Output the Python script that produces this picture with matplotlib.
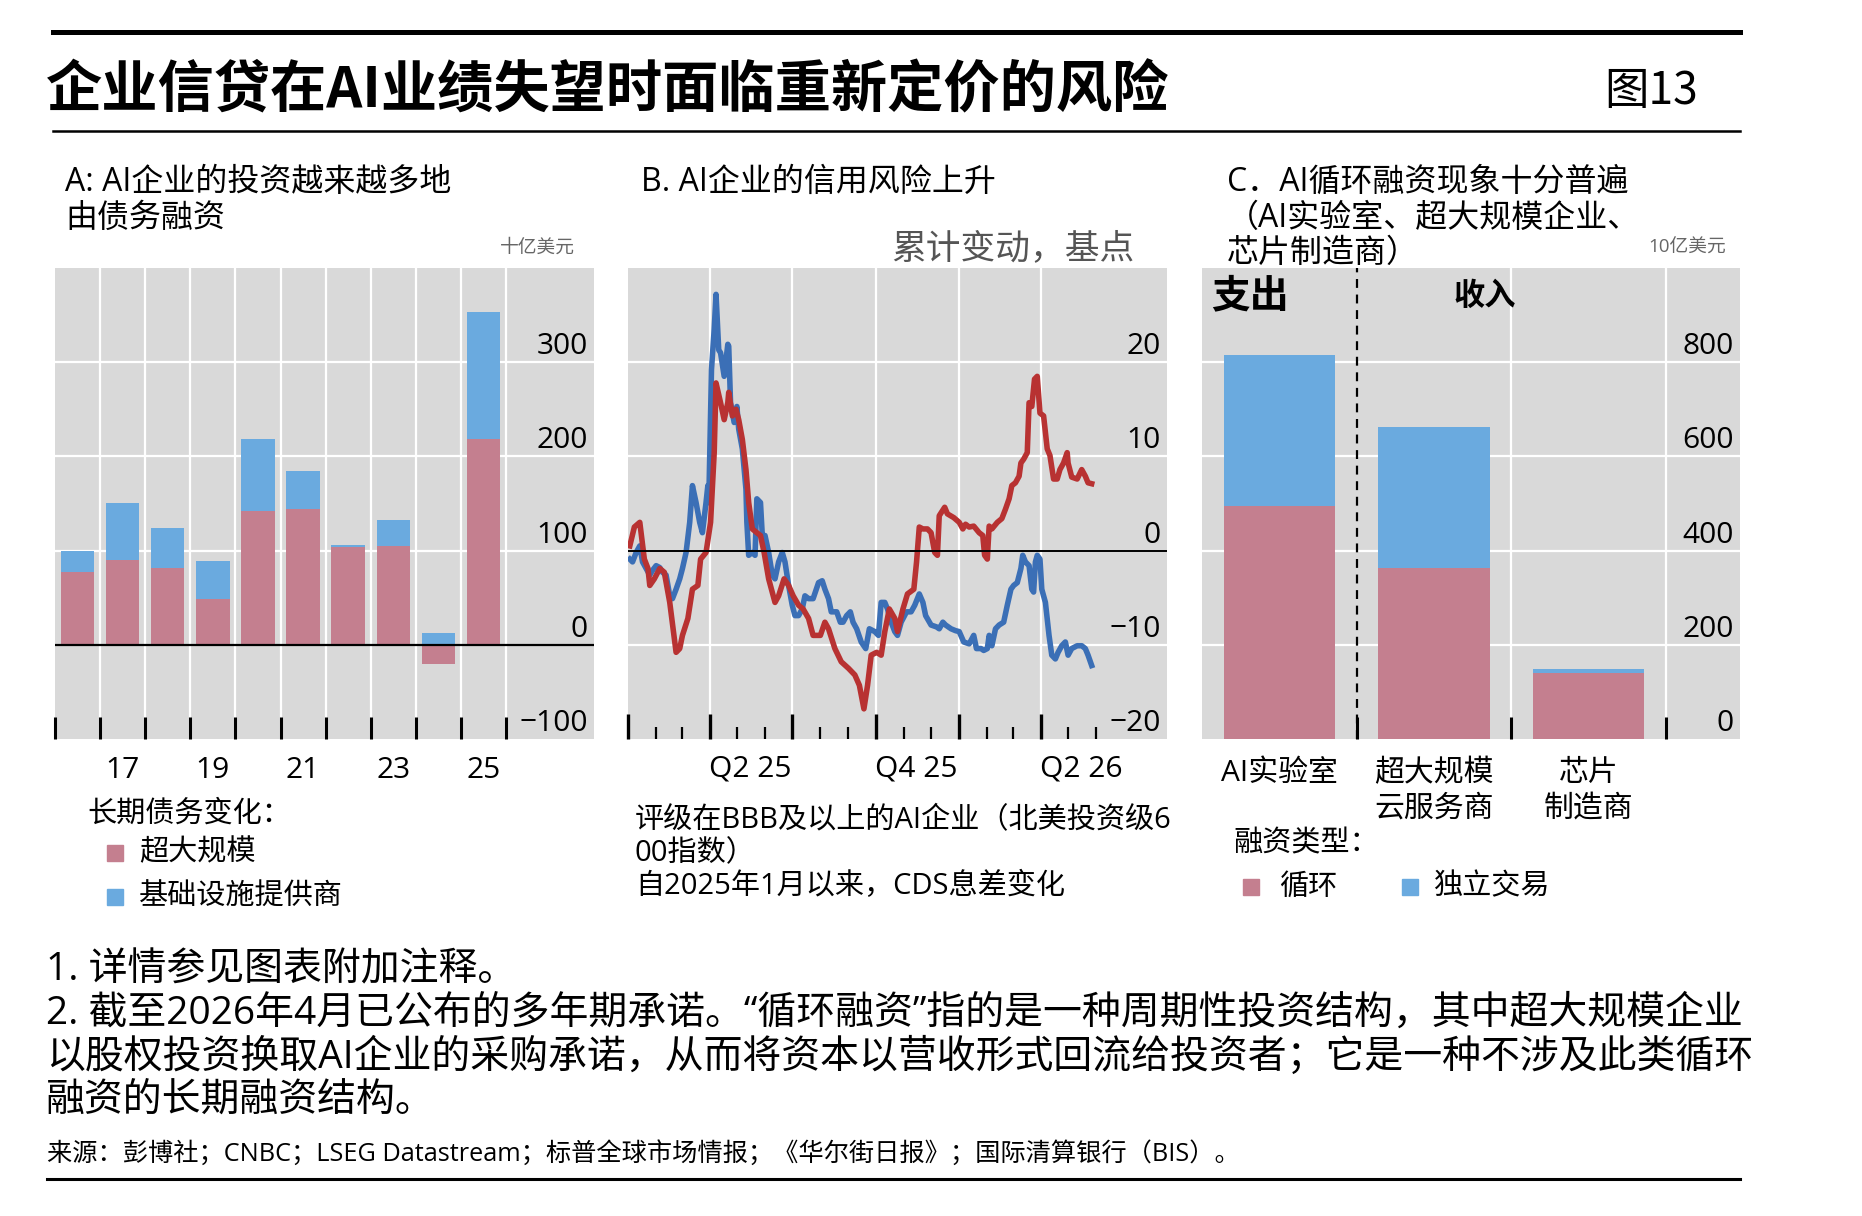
import numpy as np
import matplotlib
matplotlib.use("Agg")
import matplotlib.pyplot as plt

plt.rcParams['font.family'] = ['Open Sans', 'Noto Sans CJK SC', 'DejaVu Sans']

# ---- data ----
# panel A: long-term debt change, $bn
years = [2016, 2017, 2018, 2019, 2020, 2021, 2022, 2023, 2024, 2025]
hyperscalers = [77, 90, 81, 49, 142, 144, 104, 105, -20, 219]
infra = [23, 61, 43, 40, 76, 41, 2, 28, 12, 134]
a_year_labels = [2017, 2019, 2021, 2023, 2025]
a_yticks = [-100, 0, 100, 200, 300]

# panel B: cumulative CDS spread change since Jan 2025, bp (days after 2025-01-01)
red_days = [2, 7, 13, 18, 22, 24, 29, 35, 40, 46, 53, 57, 60, 66, 71, 77, 80, 86, 91, 95,
            97, 102, 106, 110, 111, 115, 119, 122, 126, 130, 133, 137, 142, 146, 150, 155,
            162, 166, 172, 177, 182, 188, 193, 199, 204, 212, 217, 221, 228, 235, 243, 250,
            255, 260, 264, 268, 274, 279, 283, 288, 294, 297, 303, 308, 315, 318, 321, 325,
            330, 334, 338, 341, 343, 349, 352, 359, 365, 369, 372, 376, 381, 387, 391, 393,
            396, 398, 401, 407, 412, 416, 420, 423, 427, 431, 433, 436, 440, 442, 445, 448,
            451, 454, 458, 462, 465, 469, 473, 476, 480, 484, 485, 489, 495, 500, 504, 507, 511]
red_vals = [0.5, 2.5, 3.0, -0.9, -1.9, -3.7, -3.0, -1.9, -2.3, -5.5, -10.8, -10.4, -9.0, -7.2,
            -4.1, -3.7, -0.9, -0.2, 3.0, 10.4, 17.8, 15.7, 13.9, 15.7, 16.8, 14.3, 15.0, 13.9,
            11.8, 8.6, 5.1, 2.3, 1.9, 1.6, -0.2, -3.0, -5.5, -4.8, -3.0, -3.7, -4.8, -5.8, -6.2,
            -7.2, -9.0, -9.0, -7.6, -8.3, -10.4, -11.8, -12.5, -13.2, -14.3, -16.8, -14.3,
            -11.1, -10.8, -11.1, -8.6, -6.2, -7.2, -8.6, -6.2, -4.6, -4.1, -1.2, 2.5, 2.3, 2.3,
            1.9, -0.2, -0.5, 3.7, 4.6, 3.9, 3.5, 3.0, 2.3, 2.8, 2.5, 2.6, 1.9, 1.6, -0.5, -0.9,
            2.6, 2.3, 3.0, 3.4, 4.4, 5.5, 6.9, 7.2, 7.9, 9.3, 9.7, 10.4, 15.7, 15.3, 18.2, 18.5,
            14.6, 14.3, 10.8, 10.1, 7.6, 7.6, 8.6, 9.3, 10.4, 9.3, 7.8, 7.6, 8.6, 7.9, 7.2, 7.1]
blue_days = [2, 5, 9, 13, 16, 20, 24, 27, 31, 35, 38, 42, 46, 49, 53, 57, 60, 64, 68, 71, 75,
             79, 82, 86, 88, 89, 92, 95, 97, 100, 102, 106, 110, 111, 113, 117, 120, 122, 126,
             130, 131, 133, 137, 140, 142, 146, 148, 151, 155, 159, 162, 166, 170, 173, 177,
             181, 184, 188, 192, 195, 199, 204, 210, 214, 217, 221, 224, 230, 234, 237, 241,
             245, 248, 252, 257, 262, 266, 272, 276, 279, 283, 286, 290, 294, 297, 301, 307,
             312, 316, 321, 325, 328, 334, 340, 343, 347, 350, 356, 361, 365, 370, 376, 381,
             384, 389, 392, 396, 398, 401, 405, 409, 414, 418, 422, 425, 429, 433, 435, 438,
             442, 445, 447, 449, 451, 454, 456, 460, 464, 467, 471, 474, 478, 482, 485, 489,
             495, 500, 504, 507, 511]
blue_vals = [-0.9, -1.2, -0.2, 0.5, -1.2, -1.9, -2.6, -2.1, -1.6, -1.8, -2.3, -2.6, -4.8, -5.1,
             -4.1, -3.0, -1.9, -0.2, 3.0, 6.9, 5.1, 3.0, 1.9, 5.1, 6.9, 5.1, 19.2, 23.5, 27.2,
             21.3, 21.0, 18.5, 21.9, 21.7, 15.7, 13.6, 15.3, 12.9, 10.8, 6.5, 3.0, -0.5, -0.2,
             -0.5, 5.5, 5.1, 1.6, 1.6, -0.2, -2.6, -3.0, -1.2, -0.2, -1.2, -3.7, -5.8, -6.9,
             -6.9, -6.2, -4.8, -5.1, -5.1, -3.4, -3.2, -4.1, -5.1, -6.5, -6.5, -7.6, -7.6, -6.9,
             -6.5, -7.6, -8.3, -9.7, -10.4, -8.3, -8.6, -9.0, -5.5, -5.5, -6.2, -7.6, -8.6,
             -9.0, -7.6, -6.5, -6.5, -5.8, -4.6, -5.5, -6.9, -7.9, -8.1, -8.3, -7.6, -7.9, -8.3,
             -8.5, -8.6, -9.7, -9.9, -9.0, -10.4, -10.4, -10.6, -10.4, -9.0, -10.1, -8.3, -7.9,
             -7.6, -5.8, -4.1, -3.7, -3.4, -1.9, -0.5, -1.2, -1.6, -4.1, -4.4, -1.2, -0.5, -0.9,
             -4.1, -5.5, -9.0, -11.1, -11.5, -10.8, -10.1, -9.7, -11.1, -10.4, -10.1, -10.1,
             -10.4, -11.1, -12.2]
b_yticks = [-20, -10, 0, 10, 20]
b_quarters = ['2025-01-01', '2025-04-01', '2025-07-01', '2025-10-01', '2026-01-01', '2026-04-01']
b_months = ['2025-02-01', '2025-03-01', '2025-05-01', '2025-06-01', '2025-08-01', '2025-09-01',
            '2025-11-01', '2025-12-01', '2026-02-01', '2026-03-01', '2026-05-01', '2026-06-01']
b_qlabels = ['Q2 25', 'Q4 25', 'Q2 26']
b_qlabel_dates = ['2025-05-16', '2025-11-15', '2026-05-16']

# panel C: AI circular financing, $bn
c_cats = ['AI实验室', '超大规模\n云服务商', '芯片\n制造商']
circular = [495, 362, 140]
standalone = [320, 300, 8]
c_yticks = [0, 200, 400, 600, 800]

PINK = '#c47f8f'
LBLUE = '#6aaadf'
BG = '#d9d9d9'
RED = '#b83232'
DBLUE = '#3b6fb6'

W, H = 1862, 1216
fig = plt.figure(figsize=(W / 100, H / 100), dpi=100)


def px_axes(l, t, r, b):
    return fig.add_axes([l / W, 1 - b / H, (r - l) / W, (b - t) / H])


def ftext(x, y, s, **kw):
    return fig.text(x / W, 1 - y / H, s, **kw)


def fline(x0, x1, y, lw):
    fig.add_artist(plt.Line2D([x0 / W, x1 / W], [1 - y / H, 1 - y / H], color='black',
                              lw=lw, transform=fig.transFigure))


def fsquare(xc, yc, color, size=16):
    fig.add_artist(plt.Rectangle(((xc - size / 2) / W, 1 - (yc + size / 2) / H), size / W,
                                 size / H, color=color, transform=fig.transFigure))


def right_labels(ax, ticks):
    for v in ticks:
        ax.annotate(str(v).replace('-', '\u2212'), xy=(1, v),
                    xycoords=('axes fraction', 'data'), xytext=(-6, 8),
                    textcoords='offset pixels', ha='right', va='baseline', fontsize=21.5)


def style(ax):
    ax.set_facecolor(BG)
    for s in ax.spines.values():
        s.set_visible(False)
    ax.tick_params(axis='y', left=False, right=False, labelleft=False, labelright=False)


# ---- header ----
fline(53, 1740, 32, 3.6)
fline(53, 1740, 131, 1.8)
fline(47, 1740, 1179, 2.2)
ftext(46, 91, '企业信贷在AI业绩失望时面临重新定价的风险', fontsize=40.5, fontweight='bold',
      va='center', family=['Noto Sans CJK SC'])
ftext(1698, 91, '图13', fontsize=32, ha='right', va='center',
      family=['Noto Sans CJK SC'])

# ---- panel A ----
axA = px_axes(55, 268, 594, 739)
style(axA)
bottoms = [max(h, 0) for h in hyperscalers]
axA.bar(years, hyperscalers, width=0.74, color=PINK, zorder=3)
axA.bar(years, infra, width=0.74, bottom=bottoms, color=LBLUE, zorder=3)
axA.set_xlim(2015.5, 2027.45)
axA.set_ylim(-100, 400)
bounds = [y + 0.5 for y in [2015] + years]
for x in bounds[1:]:
    axA.axvline(x, color='white', lw=1.6, zorder=1)
for v in [100, 200, 300]:
    axA.axhline(v, color='white', lw=1.6, zorder=1)
axA.axhline(0, color='black', lw=1.6, zorder=4)
axA.set_xticks(bounds)
axA.set_xticklabels([])
axA.tick_params(axis='x', which='major', direction='in', length=16, width=2.2,
                color='black', bottom=True)
axA.set_xticks(a_year_labels, minor=True)
axA.set_xticklabels([str(y)[2:] for y in a_year_labels], minor=True, fontsize=21.5)
axA.tick_params(axis='x', which='minor', length=0, pad=12)
right_labels(axA, a_yticks)

# ---- panel B ----
axB = px_axes(628, 268, 1167, 739)
style(axB)
base = np.datetime64('2025-01-01')
red_dates = base + np.array(red_days).astype('timedelta64[D]')
blue_dates = base + np.array(blue_days).astype('timedelta64[D]')
axB.plot(blue_dates, blue_vals, color=DBLUE, lw=4.0, zorder=3)
axB.plot(red_dates, red_vals, color=RED, lw=4.0, zorder=4)
axB.set_xlim(np.datetime64('2025-01-01'), np.datetime64('2026-08-18'))
axB.set_ylim(-20, 30)
for q in b_quarters[1:]:
    axB.axvline(np.datetime64(q), color='white', lw=1.6, zorder=1)
for v in [10, 20, -10]:
    axB.axhline(v, color='white', lw=1.6, zorder=1)
axB.axhline(0, color='black', lw=1.4, zorder=5)
axB.set_xticks([np.datetime64(q) for q in b_quarters])
axB.set_xticks([np.datetime64(m) for m in b_months], minor=True)
axB.tick_params(axis='x', which='major', direction='in', length=18, width=2.4,
                color='black', labelbottom=False)
axB.tick_params(axis='x', which='minor', direction='in', length=9, width=1.6,
                color='black', labelbottom=False)
for lab, d in zip(b_qlabels, b_qlabel_dates):
    axB.text(np.datetime64(d), -0.063, lab, transform=axB.get_xaxis_transform(),
             ha='center', va='center', fontsize=21.5)
right_labels(axB, b_yticks)

# ---- panel C ----
axC = px_axes(1202, 268, 1740, 739)
style(axC)
xc = np.arange(len(c_cats))
axC.bar(xc, circular, width=0.72, color=PINK, zorder=3)
axC.bar(xc, standalone, width=0.72, bottom=circular, color=LBLUE, zorder=3)
axC.set_xlim(-0.5, 2.98)
axC.set_ylim(0, 1000)
for v in [200, 400, 600, 800]:
    axC.axhline(v, color='white', lw=1.6, zorder=1)
for x in [1.5, 2.5]:
    axC.axvline(x, color='white', lw=1.6, zorder=1)
axC.axvline(0.5, color='black', lw=1.6, ls=(0, (4, 3)), zorder=4)
axC.set_xticks([0.5, 1.5, 2.5])
axC.set_xticklabels([])
axC.tick_params(axis='x', which='major', direction='in', length=16, width=2.2,
                color='black')
for i, lab in enumerate(c_cats):
    axC.text(i, -0.042, lab, transform=axC.get_xaxis_transform(), ha='center', va='top',
             fontsize=21.5, linespacing=1.3)
right_labels(axC, c_yticks)
axC.text(0.017, 0.94, '支出', transform=axC.transAxes, fontsize=28, fontweight='bold',
         va='center', ha='left', family=['Noto Sans CJK SC'])
axC.text(0.525, 0.94, '收入', transform=axC.transAxes, fontsize=22.5, fontweight='bold',
         va='center', ha='center', family=['Noto Sans CJK SC'])

# ---- panel titles and units ----
ftext(65, 182, 'A: AI企业的投资越来越多地', fontsize=23, va='center')
ftext(65, 218, '由债务融资', fontsize=23, va='center')
ftext(641, 182, 'B. AI企业的信用风险上升', fontsize=23, va='center')
ftext(1227, 182, 'C．AI循环融资现象十分普遍', fontsize=23, va='center')
ftext(1227, 218, '（AI实验室、超大规模企业、', fontsize=23, va='center')
ftext(1227, 253, '芯片制造商）', fontsize=23, va='center')
ftext(575, 248, '十亿美元', fontsize=13.5, color='#666666', ha='right', va='center')
ftext(1134, 249, '累计变动，基点', fontsize=25, color='#555555', ha='right', va='center')
ftext(1726, 248, '10亿美元', fontsize=13.5, color='#666666', ha='right', va='center')

# ---- legends ----
ftext(87, 814, '长期债务变化：', fontsize=21, va='center')
fsquare(115, 853, PINK)
ftext(139, 853, '超大规模', fontsize=21, va='center')
fsquare(115, 897, LBLUE)
ftext(139, 897, '基础设施提供商', fontsize=21, va='center')

ftext(635, 821, '评级在BBB及以上的AI企业（北美投资级6', fontsize=21, va='center')
ftext(635, 854, '00指数）', fontsize=21, va='center')
ftext(635, 887, '自2025年1月以来，CDS息差变化', fontsize=21, va='center')

ftext(1233, 844, '融资类型：', fontsize=21, va='center')
fsquare(1251, 887, PINK)
ftext(1279, 887, '循环', fontsize=21, va='center')
fsquare(1410, 887, LBLUE)
ftext(1433, 887, '独立交易', fontsize=21, va='center')

# ---- notes ----
notes = ['1. 详情参见图表附加注释。',
         '2. 截至2026年4月已公布的多年期承诺。“循环融资”指的是一种周期性投资结构，其中超大规模企业',
         '以股权投资换取AI企业的采购承诺，从而将资本以营收形式回流给投资者；它是一种不涉及此类循环',
         '融资的长期融资结构。']
for i, line in enumerate(notes):
    ftext(46, 970 + i * 43.5, line, fontsize=28, va='center')
ftext(47, 1154, '来源：彭博社；CNBC；LSEG Datastream；标普全球市场情报；《华尔街日报》；国际清算银行（BIS）。',
      fontsize=18.2, va='center')

fig.savefig('out.png', dpi=100)
